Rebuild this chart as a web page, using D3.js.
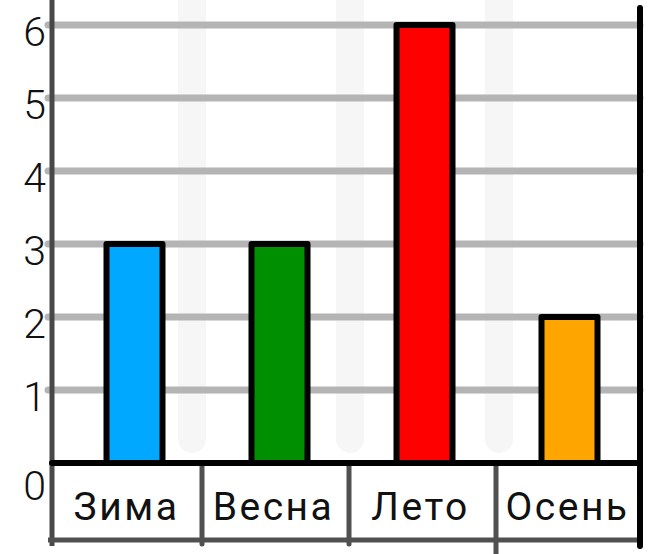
<!DOCTYPE html>
<html lang="ru">
<head>
<meta charset="utf-8">
<title>Времена года</title>
<script src="https://cdn.jsdelivr.net/npm/d3@7"></script>
<style>
  body { margin: 0; background: #fff; }
  svg { display: block; font-family: Roboto, "Noto Sans", sans-serif; }
</style>
</head>
<body>
<svg id="chart" width="653" height="554"></svg>
<script>
// data
var seasons = ["Зима", "Весна", "Лето", "Осень"];
var counts = [3, 3, 6, 2];
var colors = ["#00a8ff", "#008f00", "#ff0000", "#ffa500"];
var yTicks = [0, 1, 2, 3, 4, 5, 6];

var svg = d3.select("#chart");
var plotLeft = 52, plotRight = 640, plotBase = 463, plotTop = 25, rowBottom = 540;

// table columns and bar positions (bars sit a little right of the column centres)
var x = d3.scaleBand().domain(seasons).range([plotLeft, plotRight]).padding(0);
var xBar = d3.scaleBand().domain(seasons).range([62, 642]).padding(0);
var y = d3.scaleLinear().domain([0, 6]).range([plotBase, plotTop]);
var barW = 56;

// faint background stripes
svg.selectAll(".stripe")
  .data([192, 350, 499])
  .enter().append("rect")
    .attr("x", function(d) { return d - 14; })
    .attr("y", -20)
    .attr("width", 28)
    .attr("height", 473)
    .attr("rx", 14)
    .attr("fill", "#f6f6f6");

// grid lines
svg.selectAll(".grid")
  .data(yTicks.filter(function(d) { return d > 0; }))
  .enter().append("line")
    .attr("x1", plotLeft - 4).attr("x2", plotRight)
    .attr("y1", function(d) { return y(d); })
    .attr("y2", function(d) { return y(d); })
    .attr("stroke", "#b4b4b4")
    .attr("stroke-width", 7)
    .attr("stroke-linecap", "round");

// y tick labels
svg.selectAll(".ylab")
  .data(yTicks)
  .enter().append("text")
    .attr("x", 46)
    .attr("y", function(d) { return y(d) + (d === 0 ? 22 : 6); })
    .attr("dy", "0.36em")
    .attr("text-anchor", "end")
    .attr("font-size", 41)
    .attr("font-weight", 300)
    .attr("fill", "#111")
    .text(function(d) { return d; });

// left axis
svg.append("line")
  .attr("x1", plotLeft).attr("x2", plotLeft)
  .attr("y1", 0).attr("y2", 546)
  .attr("stroke", "#484848").attr("stroke-width", 5);

// table bottom and dividers
svg.append("line")
  .attr("x1", plotLeft - 4).attr("x2", plotRight)
  .attr("y1", rowBottom).attr("y2", rowBottom)
  .attr("stroke", "#505050").attr("stroke-width", 5);

svg.selectAll(".div")
  .data(seasons.slice(1))
  .enter().append("line")
    .attr("x1", function(d) { return x(d) + 3; })
    .attr("x2", function(d) { return x(d) + 3; })
    .attr("y1", plotBase)
    .attr("y2", function(d, i) { return i === 2 ? 554 : 544; })
    .attr("stroke", "#505050")
    .attr("stroke-width", 5)
    .attr("stroke-linecap", "round");

// right border
svg.append("line")
  .attr("x1", plotRight).attr("x2", plotRight)
  .attr("y1", 8).attr("y2", 546)
  .attr("stroke", "#000").attr("stroke-width", 6)
  .attr("stroke-linecap", "round");

// bars
svg.selectAll(".bar")
  .data(seasons)
  .enter().append("rect")
    .attr("x", function(d) { return xBar(d) + xBar.bandwidth() / 2 - barW / 2; })
    .attr("y", function(d, i) { return y(counts[i]); })
    .attr("width", barW)
    .attr("height", function(d, i) { return plotBase - y(counts[i]); })
    .attr("fill", function(d, i) { return colors[i]; })
    .attr("stroke", "#000")
    .attr("stroke-width", 6)
    .attr("stroke-linejoin", "round");

// x axis
svg.append("line")
  .attr("x1", plotLeft).attr("x2", plotRight)
  .attr("y1", plotBase).attr("y2", plotBase)
  .attr("stroke", "#000").attr("stroke-width", 6)
  .attr("stroke-linecap", "round");

// category labels
svg.selectAll(".xlab")
  .data(seasons)
  .enter().append("text")
    .attr("x", function(d) { return x(d) + x.bandwidth() / 2 + 1; })
    .attr("y", 520)
    .attr("text-anchor", "middle")
    .attr("font-size", 39)
    .attr("letter-spacing", 2.5)
    .attr("fill", "#111")
    .text(function(d) { return d; });
</script>
</body>
</html>
